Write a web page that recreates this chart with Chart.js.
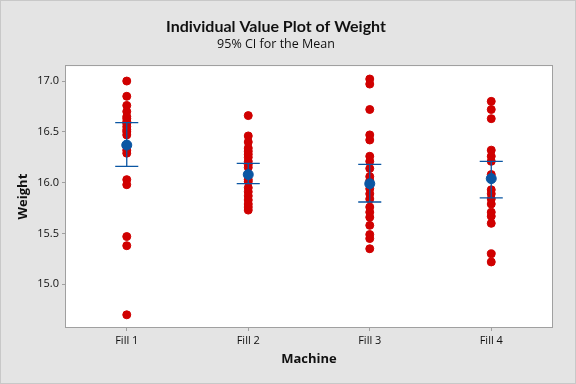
<!DOCTYPE html>
<html>
<head>
<meta charset="utf-8">
<script src="https://cdn.jsdelivr.net/npm/chart.js@4"></script>
<style>
  html, body { margin: 0; padding: 0; background: #e4e4e4; }
  #wrap { width: 576px; height: 384px; }
</style>
</head>
<body>
<div id="wrap"><canvas id="chart" width="576" height="384"></canvas></div>
<script>
// Individual value plot data
const machines = ['Fill 1', 'Fill 2', 'Fill 3', 'Fill 4'];
const fill1 = [17.00, 16.85, 16.76, 16.70, 16.65, 16.63, 16.60, 16.58, 16.55, 16.52, 16.50, 16.47, 16.32, 16.29, 16.03, 15.98, 15.47, 15.38, 14.70];
const fill2 = [16.66, 16.46, 16.40, 16.34, 16.31, 16.28, 16.25, 16.21, 16.18, 16.15, 16.03, 16.01, 15.95, 15.91, 15.87, 15.83, 15.79, 15.76, 15.73];
const fill3 = [17.02, 16.97, 16.72, 16.47, 16.42, 16.26, 16.21, 16.14, 16.06, 16.02, 15.94, 15.89, 15.84, 15.76, 15.71, 15.66, 15.58, 15.49, 15.45, 15.35];
const fill4 = [16.80, 16.72, 16.63, 16.32, 16.26, 16.21, 16.08, 15.93, 15.89, 15.84, 15.79, 15.71, 15.67, 15.60, 15.30, 15.22];
const means = [16.37, 16.08, 15.99, 16.04];
const ciLow = [16.16, 15.99, 15.81, 15.85];
const ciHigh = [16.59, 16.19, 16.18, 16.21];
const yTicks = [15.0, 15.5, 16.0, 16.5, 17.0];

const RED = '#d00000';
const BLUE = '#0a56a3';
const capHalf = 0.095;

const groups = [fill1, fill2, fill3, fill4];
const pointData = [];
groups.forEach((vals, i) => {
    vals.forEach(v => pointData.push({ x: i + 1, y: v }));
});

const meanData = means.map((v, i) => ({ x: i + 1, y: v }));

// background, outer frame and plot frame
const framePlugin = {
    id: 'frame',
    beforeDraw(chart) {
        const ctx = chart.ctx;
        ctx.save();
        ctx.fillStyle = '#e4e4e4';
        ctx.fillRect(0, 0, chart.width, chart.height);
        ctx.strokeStyle = '#c8c8c8';
        ctx.lineWidth = 1;
        ctx.strokeRect(0.5, 0.5, chart.width - 1, chart.height - 1);
        const a = chart.chartArea;
        ctx.fillStyle = '#ffffff';
        ctx.fillRect(a.left, a.top, a.right - a.left, a.bottom - a.top);
        ctx.restore();
    },
    afterDraw(chart) {
        const ctx = chart.ctx;
        const a = chart.chartArea;
        ctx.save();
        ctx.strokeStyle = '#a0a0a0';
        ctx.lineWidth = 1;
        ctx.strokeRect(Math.round(a.left) - 0.5, Math.round(a.top) - 0.5,
            Math.round(a.right - a.left) + 1, Math.round(a.bottom - a.top) + 1);
        ctx.restore();
    }
};

// CI bars (caps + vertical line), drawn just before the mean dots
const ciPlugin = {
    id: 'ciBars',
    beforeDatasetDraw(chart, args) {
        if (args.index !== 0) return;
        const xs = chart.scales.x, ys = chart.scales.y;
        const ctx = chart.ctx;
        ctx.save();
        ctx.strokeStyle = BLUE;
        ctx.lineWidth = 1.3;
        machines.forEach((m, i) => {
            const x = xs.getPixelForValue(i + 1);
            const xl = xs.getPixelForValue(i + 1 - capHalf);
            const xr = xs.getPixelForValue(i + 1 + capHalf);
            const yh = ys.getPixelForValue(ciHigh[i]);
            const yl = ys.getPixelForValue(ciLow[i]);
            ctx.beginPath();
            ctx.moveTo(xl, yh); ctx.lineTo(xr, yh);
            ctx.moveTo(x, yh); ctx.lineTo(x, yl);
            ctx.moveTo(xl, yl); ctx.lineTo(xr, yl);
            ctx.stroke();
        });
        ctx.restore();
    }
};

new Chart(document.getElementById('chart'), {
    type: 'scatter',
    data: {
        datasets: [
            {
                label: 'Mean',
                data: meanData,
                backgroundColor: BLUE,
                borderColor: BLUE,
                pointRadius: 5,
                pointHoverRadius: 5,
                order: 0
            },
            {
                label: 'Weight',
                data: pointData,
                backgroundColor: RED,
                borderColor: RED,
                pointRadius: 4,
                pointHoverRadius: 4,
                order: 2
            }
        ]
    },
    options: {
        responsive: false,
        animation: false,
        layout: { padding: { left: 0, right: 24, top: 0, bottom: 0 } },
        plugins: {
            legend: { display: false },
            tooltip: { enabled: false },
            title: {
                display: true,
                text: 'Individual Value Plot of Weight',
                color: '#111',
                font: { family: 'Lato', size: 16, weight: 'bold' },
                padding: { top: 17, bottom: 1 }
            },
            subtitle: {
                display: true,
                text: '95% CI for the Mean',
                color: '#111',
                font: { family: 'Open Sans', size: 12.5 },
                padding: { top: 0, bottom: 14 }
            }
        },
        scales: {
            x: {
                type: 'linear',
                min: 0.5,
                max: 4.5,
                afterBuildTicks(scale) {
                    scale.ticks = machines.map((m, i) => ({ value: i + 1 }));
                },
                afterFit(scale) { scale.height = 57; },
                ticks: {
                    color: '#111',
                    font: { family: 'Open Sans', size: 11 },
                    padding: 3,
                    callback: (v) => machines[v - 1]
                },
                grid: { drawOnChartArea: false, tickLength: 4, color: '#a0a0a0' },
                border: { display: false },
                title: {
                    display: true,
                    text: 'Machine',
                    color: '#111',
                    font: { family: 'Open Sans', size: 13, weight: 'bold' },
                    padding: { top: 2, bottom: 17 }
                }
            },
            y: {
                min: 14.58,
                max: 17.146,
                afterBuildTicks(scale) {
                    scale.ticks = yTicks.map(v => ({ value: v }));
                },
                afterFit(scale) { scale.width = 66; },
                ticks: {
                    color: '#111',
                    font: { family: 'Open Sans', size: 11 },
                    padding: 3,
                    callback: (v) => v.toFixed(1)
                },
                grid: { drawOnChartArea: false, tickLength: 4, color: '#a0a0a0' },
                border: { display: false },
                title: {
                    display: true,
                    text: 'Weight',
                    color: '#111',
                    font: { family: 'Open Sans', size: 13, weight: 'bold' },
                    padding: { top: 15, bottom: 4 }
                }
            }
        }
    },
    plugins: [framePlugin, ciPlugin]
});
</script>
</body>
</html>
